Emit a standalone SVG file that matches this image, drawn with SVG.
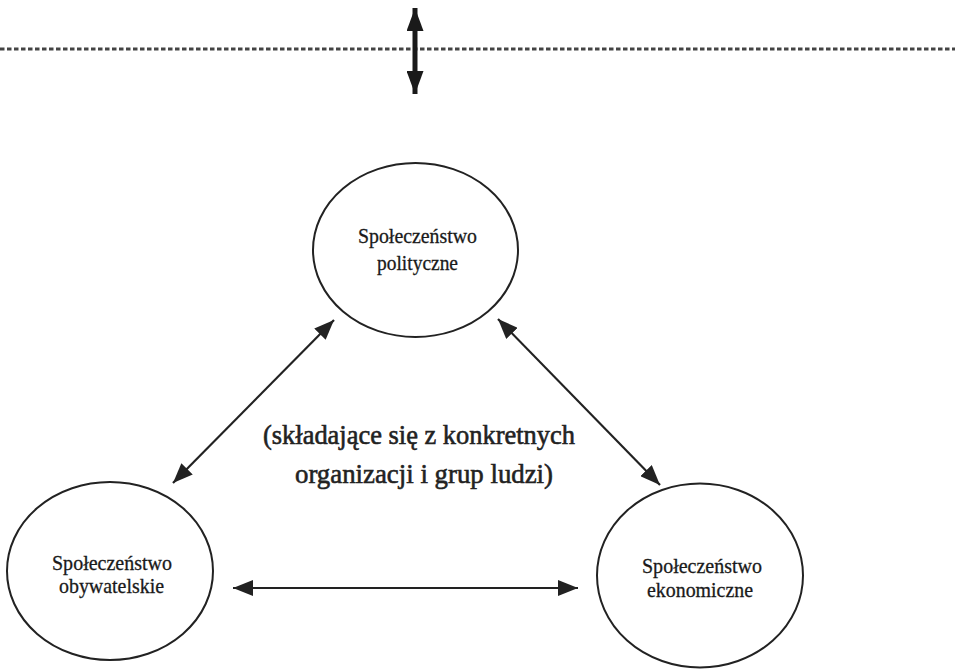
<svg xmlns="http://www.w3.org/2000/svg" width="955" height="669" viewBox="0 0 955 669">
<style>
.node ellipse{fill:none;stroke:#222;stroke-width:2}
.lbl{font-size:21px;fill:#1a1a1a;text-anchor:middle;stroke:#1a1a1a;stroke-width:0.3}
.note{font-size:28px;fill:#222;text-anchor:middle;stroke:#222;stroke-width:0.6}
.conn line{stroke:#222;stroke-width:2.2;fill:none}
</style>
<defs>
<marker id="ah" markerUnits="userSpaceOnUse" markerWidth="20" markerHeight="16" refX="20" refY="8" orient="auto-start-reverse" viewBox="0 0 20 16">
<path d="M0,0 L20,8 L0,16 z" fill="#222"/>
</marker>
<marker id="ahb" markerUnits="userSpaceOnUse" markerWidth="23" markerHeight="17" refX="23" refY="8.5" orient="auto-start-reverse" viewBox="0 0 23 17">
<path d="M0,0 L23,8.5 L0,17 z" fill="#1a1a1a"/>
</marker>
</defs>
<rect width="955" height="669" fill="#ffffff"/>
<line id="boundary" x1="0" y1="49" x2="955" y2="49" stroke="#444" stroke-width="3" stroke-dasharray="4.5 2.5"/>
<g id="connectors" class="conn">
<line x1="415" y1="8" x2="415" y2="94" style="stroke:#1a1a1a;stroke-width:5" marker-start="url(#ahb)" marker-end="url(#ahb)"/>
<line x1="334" y1="320" x2="173" y2="483" marker-start="url(#ah)" marker-end="url(#ah)"/>
<line x1="498" y1="319" x2="660" y2="485" marker-start="url(#ah)" marker-end="url(#ah)"/>
<line x1="233" y1="588" x2="578" y2="588" marker-start="url(#ah)" marker-end="url(#ah)"/>
</g>
<g font-family="'Liberation Serif', 'Times New Roman', 'DejaVu Serif', serif">
<g id="node-polityczne" class="node">
<ellipse cx="415.5" cy="250" rx="102.5" ry="87"/>
<text class="lbl" x="417.5" y="243" textLength="119" lengthAdjust="spacingAndGlyphs">Społeczeństwo</text>
<text class="lbl" x="417.5" y="270" textLength="81" lengthAdjust="spacingAndGlyphs">polityczne</text>
</g>
<g id="node-obywatelskie" class="node">
<ellipse cx="110" cy="571" rx="103" ry="89"/>
<text class="lbl" x="112" y="570" textLength="120" lengthAdjust="spacingAndGlyphs">Społeczeństwo</text>
<text class="lbl" x="111.5" y="593" textLength="105" lengthAdjust="spacingAndGlyphs">obywatelskie</text>
</g>
<g id="node-ekonomiczne" class="node">
<ellipse cx="700" cy="575.5" rx="103" ry="92"/>
<text class="lbl" x="702" y="573" textLength="120" lengthAdjust="spacingAndGlyphs">Społeczeństwo</text>
<text class="lbl" x="700" y="597" textLength="106" lengthAdjust="spacingAndGlyphs">ekonomiczne</text>
</g>
<g id="note">
<text class="note" x="419" y="444" textLength="312" lengthAdjust="spacingAndGlyphs">(składające się z konkretnych</text>
<text class="note" x="424" y="483" textLength="258" lengthAdjust="spacingAndGlyphs">organizacji i grup ludzi)</text>
</g>
</g>
</svg>
